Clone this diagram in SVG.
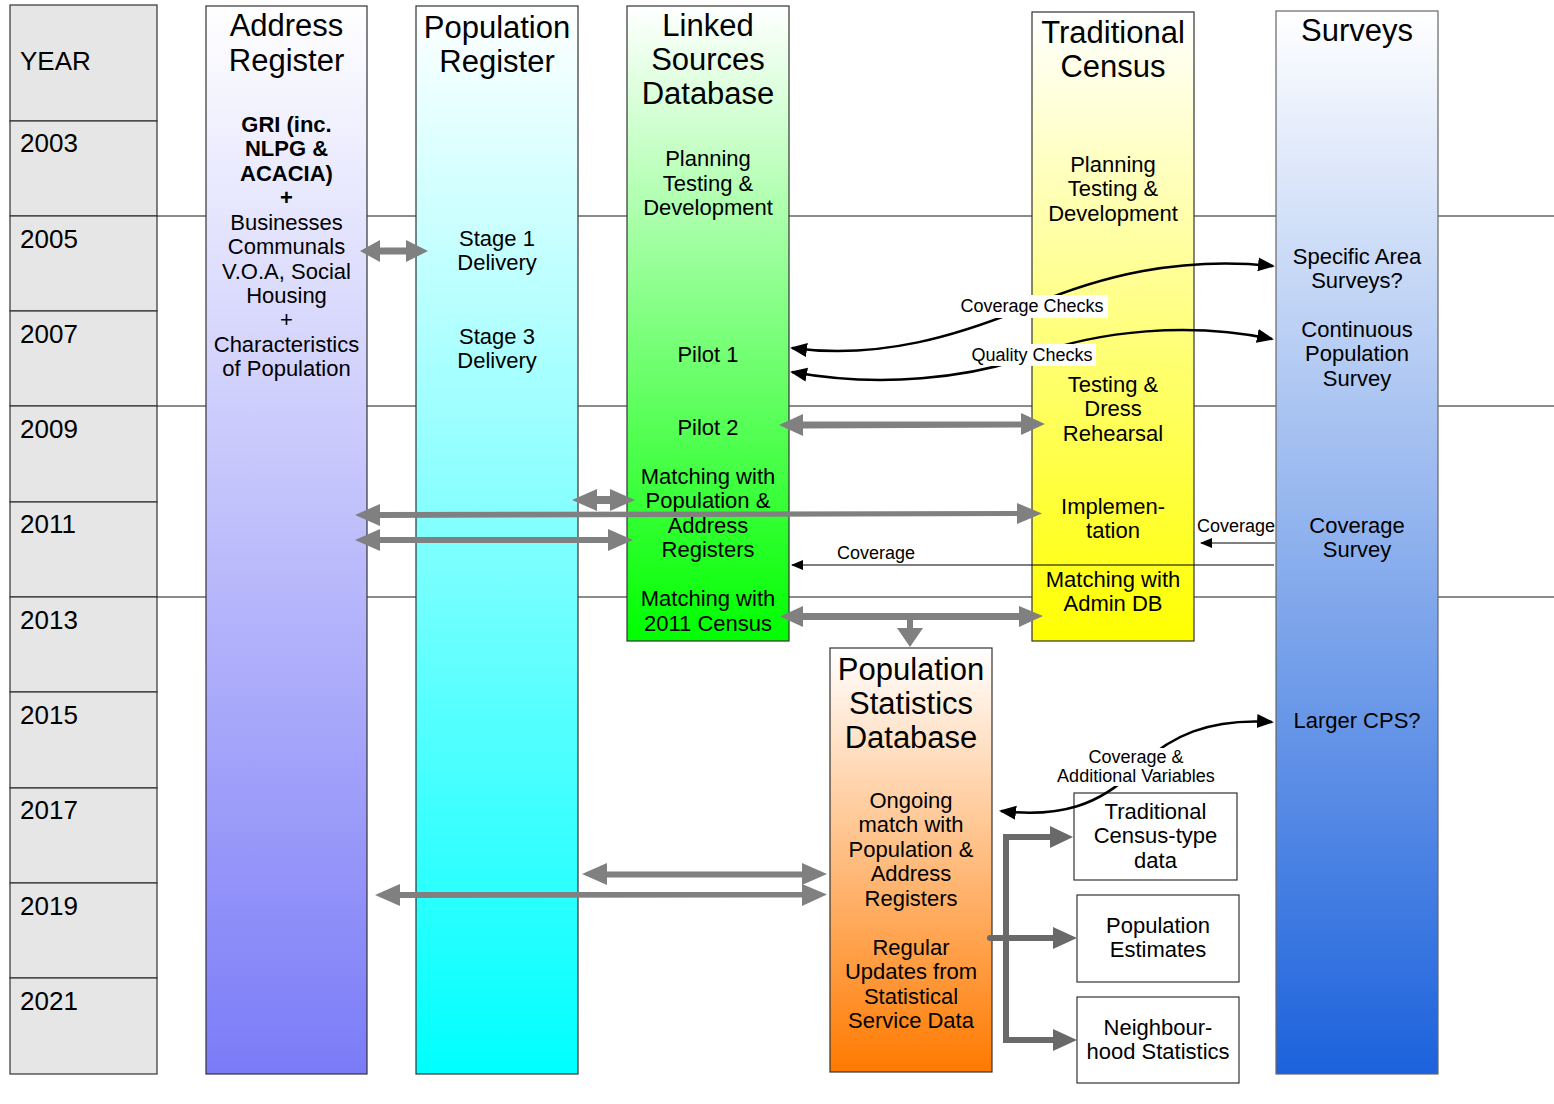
<svg xmlns="http://www.w3.org/2000/svg" width="1554" height="1104" viewBox="0 0 1554 1104">
<defs>
<linearGradient id="gAddr" x1="0" y1="0" x2="0" y2="1"><stop offset="0" stop-color="#ffffff"/><stop offset="1" stop-color="#7b7bf8"/></linearGradient>
<linearGradient id="gPop" x1="0" y1="0" x2="0" y2="1"><stop offset="0" stop-color="#ffffff"/><stop offset="1" stop-color="#00ffff"/></linearGradient>
<linearGradient id="gLsd" x1="0" y1="0" x2="0" y2="1"><stop offset="0" stop-color="#ffffff"/><stop offset="1" stop-color="#00ff00"/></linearGradient>
<linearGradient id="gTc" x1="0" y1="0" x2="0" y2="1"><stop offset="0" stop-color="#ffffff"/><stop offset="1" stop-color="#ffff00"/></linearGradient>
<linearGradient id="gSur" x1="0" y1="0" x2="0" y2="1"><stop offset="0" stop-color="#ffffff"/><stop offset="1" stop-color="#1c62dc"/></linearGradient>
<linearGradient id="gPsd" x1="0" y1="0" x2="0" y2="1"><stop offset="0" stop-color="#ffffff"/><stop offset="1" stop-color="#ff7a00"/></linearGradient>
<marker id="bh" markerUnits="userSpaceOnUse" markerWidth="18" markerHeight="16" refX="15" refY="7" orient="auto-start-reverse"><path d="M0,0 L17,7 L0,14 z" fill="#000"/></marker>
<marker id="sh" markerUnits="userSpaceOnUse" markerWidth="14" markerHeight="12" refX="11" refY="5" orient="auto-start-reverse"><path d="M0,0 L12,5 L0,10 z" fill="#000"/></marker>
</defs>
<style>
text{font-family:"Liberation Sans",Arial,sans-serif;fill:#000;text-anchor:middle}
.yr{font-size:26px;text-anchor:start}
.ti{font-size:31px}
.bd{font-size:22px}
.b{font-weight:bold}
.sm{font-size:18px}
.yc{fill:#e6e6e6;stroke:#333;stroke-width:1.2}
.col{stroke:#333;stroke-width:1.2}
.grid{stroke:#666;stroke-width:1.5}
.garr{fill:#808080}
.darr{fill:#696969}
.dl{stroke:#696969;stroke-width:6;fill:none}
.cv{fill:none;stroke:#000;stroke-width:2.5}
.tl{fill:none;stroke:#000;stroke-width:1.2}
.lab{fill:#fff}
.ob{fill:#fff;stroke:#333;stroke-width:1.2}
</style>
<rect width="1554" height="1104" fill="#fff"/>
<g id="grid">
<line class="grid" x1="157" y1="216" x2="1554" y2="216"/>
<line class="grid" x1="157" y1="406" x2="1554" y2="406"/>
<line class="grid" x1="157" y1="597" x2="1554" y2="597" stroke="#222"/>
</g>
<g id="years">
<rect class="yc" x="10" y="5" width="147" height="116"/>
<rect class="yc" x="10" y="121" width="147" height="95"/>
<rect class="yc" x="10" y="216" width="147" height="95"/>
<rect class="yc" x="10" y="311" width="147" height="95"/>
<rect class="yc" x="10" y="406" width="147" height="96"/>
<rect class="yc" x="10" y="502" width="147" height="95"/>
<rect class="yc" x="10" y="597" width="147" height="95"/>
<rect class="yc" x="10" y="692" width="147" height="96"/>
<rect class="yc" x="10" y="788" width="147" height="95"/>
<rect class="yc" x="10" y="883" width="147" height="95"/>
<rect class="yc" x="10" y="978" width="147" height="96"/>
<text class="yr" x="20" y="70">YEAR</text>
<text class="yr" x="20" y="152">2003</text>
<text class="yr" x="20" y="248">2005</text>
<text class="yr" x="20" y="343">2007</text>
<text class="yr" x="20" y="438">2009</text>
<text class="yr" x="20" y="533">2011</text>
<text class="yr" x="20" y="629">2013</text>
<text class="yr" x="20" y="724">2015</text>
<text class="yr" x="20" y="819">2017</text>
<text class="yr" x="20" y="915">2019</text>
<text class="yr" x="20" y="1010">2021</text>
</g>
<g id="address-register">
<rect class="col" x="206" y="6" width="161" height="1068" fill="url(#gAddr)"/>
<text class="ti" x="286.5" y="36">Address</text>
<text class="ti" x="286.5" y="71">Register</text>
<text class="bd b" x="286.5" y="132">GRI (inc.</text>
<text class="bd b" x="286.5" y="156">NLPG &amp;</text>
<text class="bd b" x="286.5" y="181">ACACIA)</text>
<text class="bd b" x="286.5" y="205">+</text>
<text class="bd" x="286.5" y="230">Businesses</text>
<text class="bd" x="286.5" y="254">Communals</text>
<text class="bd" x="286.5" y="279">V.O.A, Social</text>
<text class="bd" x="286.5" y="303">Housing</text>
<text class="bd" x="286.5" y="327">+</text>
<text class="bd" x="286.5" y="352">Characteristics</text>
<text class="bd" x="286.5" y="376">of Population</text>
</g>
<g id="population-register">
<rect class="col" x="416" y="6" width="162" height="1068" fill="url(#gPop)"/>
<text class="ti" x="497" y="38">Population</text>
<text class="ti" x="497" y="72">Register</text>
<text class="bd" x="497" y="246">Stage 1</text>
<text class="bd" x="497" y="270">Delivery</text>
<text class="bd" x="497" y="344">Stage 3</text>
<text class="bd" x="497" y="368">Delivery</text>
</g>
<g id="linked-sources-database">
<rect class="col" x="627" y="6" width="162" height="635" fill="url(#gLsd)"/>
<text class="ti" x="708" y="36">Linked</text>
<text class="ti" x="708" y="70">Sources</text>
<text class="ti" x="708" y="104">Database</text>
<text class="bd" x="708" y="166">Planning</text>
<text class="bd" x="708" y="191">Testing &amp;</text>
<text class="bd" x="708" y="215">Development</text>
<text class="bd" x="708" y="362">Pilot 1</text>
<text class="bd" x="708" y="435">Pilot 2</text>
<text class="bd" x="708" y="484">Matching with</text>
<text class="bd" x="708" y="508">Population &amp;</text>
<text class="bd" x="708" y="533">Address</text>
<text class="bd" x="708" y="557">Registers</text>
<text class="bd" x="708" y="606">Matching with</text>
<text class="bd" x="708" y="631">2011 Census</text>
</g>
<g id="traditional-census">
<rect class="col" x="1032" y="12" width="162" height="629" fill="url(#gTc)"/>
<text class="ti" x="1113" y="43">Traditional</text>
<text class="ti" x="1113" y="77">Census</text>
<text class="bd" x="1113" y="172">Planning</text>
<text class="bd" x="1113" y="196">Testing &amp;</text>
<text class="bd" x="1113" y="221">Development</text>
<text class="bd" x="1113" y="392">Testing &amp;</text>
<text class="bd" x="1113" y="416">Dress</text>
<text class="bd" x="1113" y="441">Rehearsal</text>
<text class="bd" x="1113" y="514">Implemen-</text>
<text class="bd" x="1113" y="538">tation</text>
<text class="bd" x="1113" y="587">Matching with</text>
<text class="bd" x="1113" y="611">Admin DB</text>
</g>
<g id="surveys">
<rect x="1276" y="11" width="162" height="1063" fill="url(#gSur)" stroke="#666" stroke-width="1.2"/>
<text class="ti" x="1357" y="41">Surveys</text>
<text class="bd" x="1357" y="264">Specific Area</text>
<text class="bd" x="1357" y="288">Surveys?</text>
<text class="bd" x="1357" y="337">Continuous</text>
<text class="bd" x="1357" y="361">Population</text>
<text class="bd" x="1357" y="386">Survey</text>
<text class="bd" x="1357" y="533">Coverage</text>
<text class="bd" x="1357" y="557">Survey</text>
<text class="bd" x="1357" y="728">Larger CPS?</text>
</g>
<g id="population-statistics-database">
<rect class="col" x="830" y="648" width="162" height="424" fill="url(#gPsd)"/>
<text class="ti" x="911" y="680">Population</text>
<text class="ti" x="911" y="714">Statistics</text>
<text class="ti" x="911" y="748">Database</text>
<text class="bd" x="911" y="808">Ongoing</text>
<text class="bd" x="911" y="832">match with</text>
<text class="bd" x="911" y="857">Population &amp;</text>
<text class="bd" x="911" y="881">Address</text>
<text class="bd" x="911" y="906">Registers</text>
<text class="bd" x="911" y="955">Regular</text>
<text class="bd" x="911" y="979">Updates from</text>
<text class="bd" x="911" y="1004">Statistical</text>
<text class="bd" x="911" y="1028">Service Data</text>
</g>
<g id="traditional-census-type-data">
<rect class="ob" x="1074" y="793" width="163" height="87"/>
<text class="bd" x="1155.5" y="819">Traditional</text>
<text class="bd" x="1155.5" y="843">Census-type</text>
<text class="bd" x="1155.5" y="868">data</text>
</g>
<g id="population-estimates">
<rect class="ob" x="1077" y="895" width="162" height="87"/>
<text class="bd" x="1158" y="933">Population</text>
<text class="bd" x="1158" y="957">Estimates</text>
</g>
<g id="neighbourhood-statistics">
<rect class="ob" x="1077" y="997" width="162" height="86"/>
<text class="bd" x="1158" y="1035">Neighbour-</text>
<text class="bd" x="1158" y="1059">hood Statistics</text>
</g>
<g id="connectors">
<polygon class="garr" points="360,251 380,240 380,247.5 406,247.5 406,240 428,251 406,262 406,254.5 380,254.5 380,262"/>
<polygon class="garr" points="779,425 803,414 803,421.5 1021,421.5 1021,413 1045,424 1021,435 1021,427.5 803,428.5 803,436"/>
<polygon class="garr" points="572,500 597,489 597,496 610,496 610,489 635,500 610,511 610,504 597,504 597,511"/>
<polygon class="garr" points="355,515 380,504 380,512 1017,511 1017,503 1042,513.5 1017,524 1017,516 380,518 380,526"/>
<polygon class="garr" points="355,540 380,529 380,537 608,537 608,529 633,540 608,551 608,543 380,543 380,551"/>
<polygon class="garr" points="780,616.5 803,606 803,613 1019,613 1019,606 1043,616 1019,627 1019,620 913,620 913,628 923,628 910,647 897,628 907,628 907,620 803,620 803,627"/>
<polygon class="garr" points="582,874 607,863 607,871.5 802,871.5 802,863 827,874 802,885 802,877.5 607,877.5 607,885"/>
<polygon class="garr" points="375,895 400,884 400,892 802,892 802,884 827,894.5 802,906 802,897.5 400,898 400,906"/>
<path class="cv" d="M792,348 C880,360 960,335 1030,306 C1100,276 1180,256 1273,266" marker-start="url(#bh)" marker-end="url(#bh)"/>
<path class="cv" d="M792,372 C880,388 970,378 1030,356 C1100,330 1190,322 1272,339" marker-start="url(#bh)" marker-end="url(#bh)"/>
<path class="cv" d="M1001,811 C1060,818 1100,805 1135,770 C1170,735 1210,718 1272,722" marker-start="url(#bh)" marker-end="url(#bh)"/>
<rect class="lab" x="958" y="295" width="150" height="23"/>
<text class="sm" x="1032" y="312">Coverage Checks</text>
<rect class="lab" x="968" y="344" width="128" height="22"/>
<text class="sm" x="1032" y="361">Quality Checks</text>
<rect class="lab" x="1086" y="748" width="100" height="18"/>
<rect class="lab" x="1054" y="766" width="166" height="20"/>
<text class="sm" x="1136" y="763">Coverage &amp;</text>
<text class="sm" x="1136" y="782">Additional Variables</text>
<line class="tl" x1="1275" y1="543" x2="1201" y2="543" marker-end="url(#sh)"/>
<text class="sm" x="1236" y="532">Coverage</text>
<line class="tl" x1="1274" y1="565" x2="792" y2="565" marker-end="url(#sh)"/>
<text class="sm" x="876" y="559">Coverage</text>
<path class="dl" d="M990,938 H1006" stroke-linecap="round"/>
<path class="dl" d="M1006,834 V1043"/>
<path class="dl" d="M1006,837 H1052 M1006,938 H1054 M1006,1040 H1054"/>
<polygon class="darr" points="1050,826 1073,837 1050,848"/>
<polygon class="darr" points="1053,927 1077,938 1053,949"/>
<polygon class="darr" points="1053,1029 1077,1040 1053,1051"/>
</g>
</svg>
